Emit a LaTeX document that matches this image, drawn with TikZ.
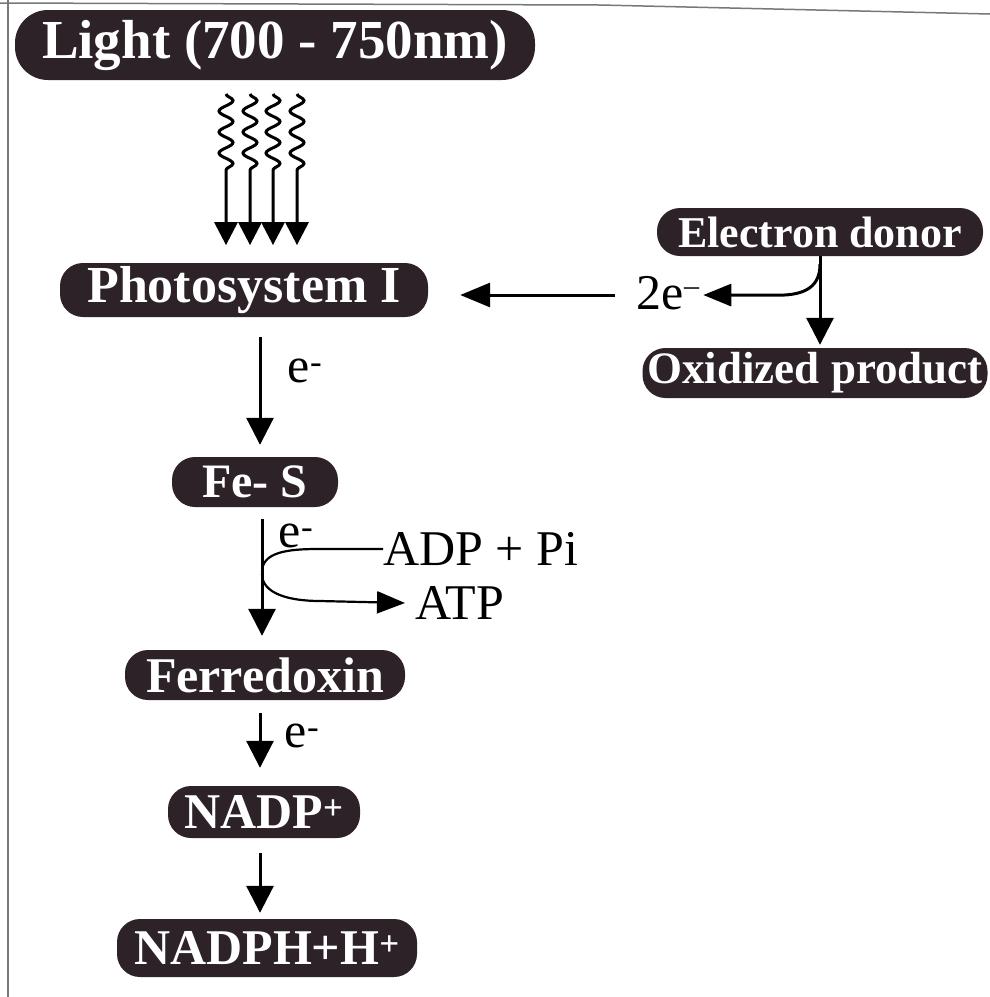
\documentclass[tikz,border=0pt]{standalone}
\usepackage{fontspec}
\setmainfont{Liberation Serif}
\usetikzlibrary{arrows.meta,decorations.pathmorphing,calc}
\definecolor{pill}{RGB}{44,34,40}
\definecolor{frameline}{RGB}{120,120,120}
\begin{document}
\begin{tikzpicture}[x=1pt,y=-1pt,
  pillbox/.style={fill=pill,text=white,rounded corners=23pt,inner sep=0pt,anchor=center,
    font=\bfseries\fontsize{50}{50}\selectfont},
  arr/.style={line width=3pt,-{Triangle[width=27pt,length=27pt]}},
  thinarr/.style={line width=2.2pt,-{Triangle[width=22pt,length=28pt]}},
  wave/.style={line width=3pt},
  lbl/.style={font=\fontsize{50}{50}\selectfont,inner sep=0pt,anchor=center}]
\useasboundingbox (0,0) rectangle (990,997);
% scanned frame edges
\draw[frameline,line width=1.5pt] (8,0) -- (8,997);
\draw[frameline,line width=1.5pt] (0,3) -- (600,5) -- (990,14);

% boxes
\node[pillbox,minimum width=520pt,minimum height=70pt,rounded corners=33pt,
  font=\bfseries\fontsize{55}{55}\selectfont] (light) at (275,45) {Light (700 - 750nm)};
\node[pillbox,minimum width=368pt,minimum height=54pt,font=\bfseries\fontsize{52}{52}\selectfont] (ps1) at (244,290) {Photosystem I};
\node[pillbox,minimum width=326pt,minimum height=48pt,font=\bfseries\fontsize{44}{44}\selectfont] (donor) at (820,232) {Electron donor};
\node[pillbox,minimum width=345pt,minimum height=50pt,font=\bfseries\fontsize{45}{45}\selectfont] (oxid) at (815,373) {Oxidized product};
\node[pillbox,minimum width=166pt,minimum height=50pt,font=\bfseries\fontsize{48}{48}\selectfont] (fes) at (255,482) {Fe- S};
\node[pillbox,minimum width=280pt,minimum height=50pt] (fd) at (265,675) {Ferredoxin};
\node[pillbox,minimum width=192pt,minimum height=52pt] (nadp) at (264,812) {NADP\textsuperscript{+}};
\node[pillbox,minimum width=300pt,minimum height=58pt] (nadph) at (267,948) {NADPH+H\textsuperscript{+}};

% light waves
\foreach \x in {226,250,273,297}{
  \draw[wave] (\x,94) decorate[decoration={snake,segment length=21pt,amplitude=7pt}] {-- (\x,178)} -- (\x,224);
  \fill (\x-12,222) -- (\x+12,222) -- (\x,245) -- cycle;
}

% labels
\node[lbl] (e1) at (305,371) {e\textsuperscript{-}};
\node[lbl] (e2) at (296,536) {e\textsuperscript{-}};
\node[lbl] (e3) at (302,736) {e\textsuperscript{-}};
\node[lbl,anchor=west] (adp) at (383,549) {ADP + Pi};
\node[lbl,anchor=west] (atp) at (415,603) {ATP};
\node[lbl] (twoe) at (668,293) {2e\raisebox{14pt}{\fontsize{30}{30}\selectfont --}};

% main chain
\draw[arr] ($(ps1.south)+(16,20)$) -- ($(fes.north)+(5,-12)$);
\draw[arr] ($(fes.south)+(7,12)$) -- ($(fd.north)+(-3,-14)$);
\draw[arr] ($(fd.south)+(-5,13)$) -- ($(nadp.north)+(-4,-18)$);
\draw[arr] ($(nadp.south)+(-4,15)$) -- ($(nadph.north)+(-7,-6)$);

% donor side
\draw[line width=3pt,-{Triangle[width=24pt,length=30pt]}] ($(twoe.west)+(-22,2)$) -- ($(ps1.east |- twoe.west)+(32,2)$);
\draw[arr] (donor.south) -- ($(donor.south |- oxid.north)+(0,-3)$);
\draw[line width=3pt,-{Triangle[width=22pt,length=28pt]}] ($(donor.south)+(0,8)$) .. controls ($(donor.south)+(0,30)$) and ($(donor.south)+(-14,39)$) .. ($(donor.south)+(-42,39)$) -- ($(twoe.east)+(4,2)$);

% photophosphorylation branch
\draw[line width=2.2pt] (adp.west) -- ++(-65,0) .. controls ++(-30,0) and ++(0,-20) .. (262,572);
\draw[thinarr] (262,574) .. controls ++(0,20) and ++(-30,0) .. (320,601) -- ($(atp.west)+(-10,0)$);
\end{tikzpicture}
\end{document}
